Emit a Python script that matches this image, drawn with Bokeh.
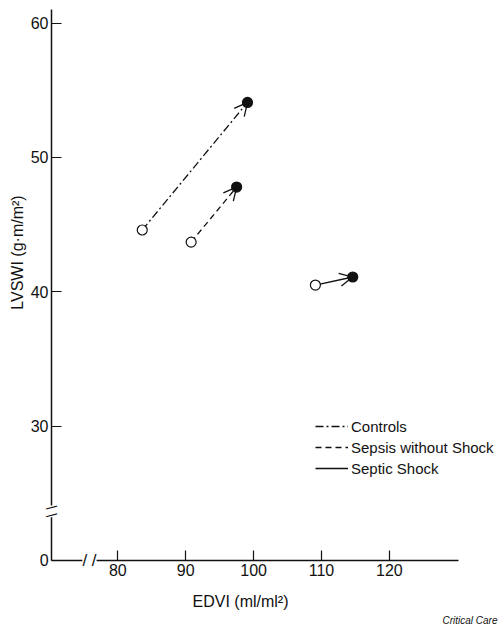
import math
from bokeh.plotting import figure
from bokeh.models import (ColumnDataSource, Range1d, FixedTicker, Arrow, OpenHead,
                          Label)
from bokeh.embed import file_html
from bokeh.resources import INLINE

# ---- data ----
groups = ["Controls", "Sepsis without Shock", "Septic Shock"]
edvi_before = [83.6, 90.8, 109.1]
edvi_after = [99.1, 97.5, 114.6]
lvswi_before = [44.6, 43.7, 40.5]
lvswi_after = [54.1, 47.8, 41.1]
group_dashes = ["8 3 2 3", "6 4", "solid"]

x_ticks = [80, 90, 100, 110, 120]
y_ticks = [20, 30, 40, 50, 60]
y_tick_overrides = {20: "0"}   # broken axis: bottom of the axis is labelled 0

# axis extents (data units) and the view around them
X_AXIS = (70.24, 130.16)
Y_AXIS = (20.0, 61.02)
X_VIEW = (62.725, 136.36)
Y_VIEW = (15.15, 61.69)
X_BREAK = 75.83
Y_BREAK = 23.65

FONT = "Liberation Sans"
INK = "#111111"

p = figure(width=500, height=625, output_backend="svg", toolbar_location=None,
           x_range=Range1d(*X_VIEW), y_range=Range1d(*Y_VIEW),
           min_border=0)
p.outline_line_color = None
p.grid.visible = False
p.background_fill_color = "white"
p.border_fill_color = "white"

for ax in (p.xaxis[0], p.yaxis[0]):
    ax.axis_line_width = 1.5
    ax.axis_line_color = INK
    ax.major_tick_in = 10
    ax.major_tick_out = 0
    ax.major_tick_line_width = 1.2
    ax.major_tick_line_color = INK
    ax.minor_tick_line_color = None
    ax.major_label_text_font = FONT
    ax.major_label_text_font_size = "16px"
    ax.major_label_text_color = INK

xa, ya = p.xaxis[0], p.yaxis[0]
xa.ticker = FixedTicker(ticks=x_ticks)
xa.major_label_standoff = 4
xa.fixed_location = Y_AXIS[0]
xa.bounds = X_AXIS
ya.ticker = FixedTicker(ticks=y_ticks)
ya.major_label_overrides = y_tick_overrides
ya.major_label_standoff = 3
ya.fixed_location = X_AXIS[0]
ya.bounds = Y_AXIS

# ---- connecting lines, one per group (also feed the legend) ----
for i, g in enumerate(groups):
    src = ColumnDataSource(dict(x0=[edvi_before[i]], y0=[lvswi_before[i]],
                                x1=[edvi_after[i]], y1=[lvswi_after[i]]))
    p.segment(x0="x0", y0="y0", x1="x1", y1="y1", source=src,
              line_color=INK, line_width=1.3, line_dash=group_dashes[i],
              legend_label=g)

# ---- open arrow heads at the "after" points ----
arrow_src = ColumnDataSource(dict(x0=edvi_before, y0=lvswi_before,
                                  x1=edvi_after, y1=lvswi_after))
p.add_layout(Arrow(source=arrow_src, x_start="x0", y_start="y0",
                   x_end="x1", y_end="y1", line_alpha=0,
                   start=None,
                   end=OpenHead(size=13, line_width=1.3, line_color=INK)))

# ---- points ----
p.scatter(edvi_before, lvswi_before, size=10, fill_color="white",
          line_color=INK, line_width=1.2, level="overlay")
p.scatter(edvi_after, lvswi_after, size=10, fill_color=INK,
          line_color=INK, line_width=1.2, level="overlay")

# ---- legend ----
lg = p.legend[0]
lg.location = (315, 147)
lg.padding = 0
lg.margin = 0
lg.spacing = 1
lg.glyph_width = 33
lg.glyph_height = 20
lg.label_height = 20
lg.label_standoff = 3
lg.label_text_font = FONT
lg.label_text_font_size = "15px"
lg.label_text_color = INK
lg.border_line_color = None
lg.background_fill_alpha = 0

# ---- axis titles and source note ----
p.add_layout(Label(x=17, y=373, x_units="screen", y_units="screen",
                   text="LVSWI (g\u00b7m/m\u00b2)", angle=math.pi / 2,
                   text_align="center", text_baseline="middle",
                   text_font=FONT, text_font_size="16px", text_color=INK))
p.add_layout(Label(x=240, y=24, x_units="screen", y_units="screen",
                   text="EDVI (ml/ml\u00b2)", text_align="center",
                   text_baseline="middle", text_font=FONT,
                   text_font_size="16px", text_color=INK))
p.add_layout(Label(x=497, y=5, x_units="screen", y_units="screen",
                   text="Critical Care", text_align="right",
                   text_baseline="middle", text_font=FONT,
                   text_font_style="italic", text_font_size="10px",
                   text_color=INK))

# ---- axis break marks ----
p.add_layout(Label(x=X_BREAK, y=Y_AXIS[0], text="/ /", text_align="center",
                   text_baseline="middle", text_font=FONT,
                   text_font_size="17px", text_color=INK,
                   background_fill_color="white"))
p.add_layout(Label(x=X_AXIS[0], y=Y_BREAK, text="\\ \\", angle=math.pi / 2,
                   text_align="center", text_baseline="middle", text_font=FONT,
                   text_font_size="14px", text_color=INK,
                   background_fill_color="white"))

open("out.html", "w").write(file_html(p, INLINE))
